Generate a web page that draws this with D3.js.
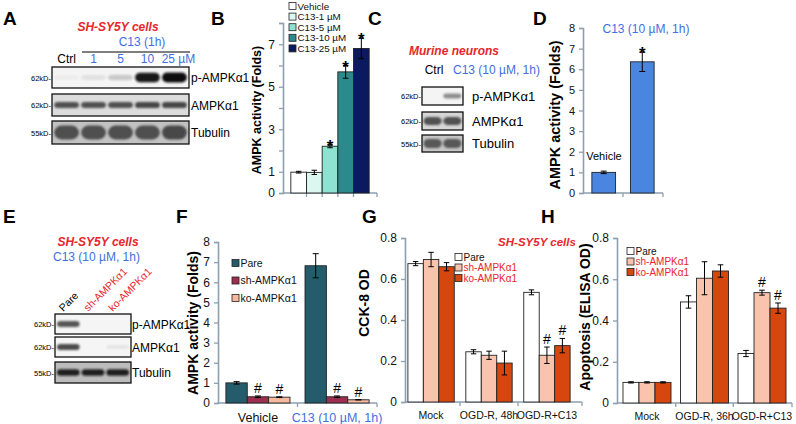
<!DOCTYPE html>
<html><head><meta charset="utf-8">
<script src="https://cdn.jsdelivr.net/npm/d3@7"></script>
<style>body{margin:0;background:#fff} svg{display:block;font-family:"Liberation Sans",Arial,sans-serif}</style>
</head><body><svg id="c" width="796" height="424"></svg>
<script>
// ---------- DATA ----------
// Panel A blot (band intensities 0..1)
const aLanes = ["Ctrl", "1", "5", "10", "25 µM"];
const aPampk = [0.03, 0.08, 0.18, 0.95, 1.0];
const aAmpk = [0.75, 0.75, 0.75, 0.8, 0.8];
const aTubulin = [0.85, 0.85, 0.85, 0.85, 0.9];
// Panel B
const bCategories = ["Vehicle", "C13-1 µM", "C13-5 µM", "C13-10 µM", "C13-25 µM"];
const bValues = [0.98, 0.97, 2.2, 5.7, 6.8];
const bErrors = [0.04, 0.1, 0.07, 0.3, 0.48];
const bSig = ["", "", "*", "*", "*"];
const bTicks = [0, 1, 2, 3, 4, 5, 6, 7, 8];
const bTickLabels = [0, 1, 3, 5, 7];
// Panel C blot
const cLanes = ["Ctrl", "C13 (10 µM, 1h)"];
const cPampk = [0.0, 0.45];
const cAmpk = [0.8, 0.8];
const cTubulin = [0.85, 0.85];
// Panel D
const dCategories = ["Vehicle", "C13 (10 µM, 1h)"];
const dValues = [1.0, 6.36];
const dErrors = [0.06, 0.47];
const dSig = ["", "*"];
const dTicks = [0, 1, 2, 3, 4, 5, 6, 7, 8];
// Panel E blot
const eLanes = ["Pare", "sh-AMPKα1", "ko-AMPKα1"];
const ePampk = [0.75, 0, 0];
const eAmpk = [0.8, 0, 0.08];
const eTubulin = [0.9, 0.9, 0.9];
// Panel F
const fGroups = ["Vehicle", "C13 (10 µM, 1h)"];
const fSeries = ["Pare", "sh-AMPKα1", "ko-AMPKα1"];
const fPare = [1.0, 6.82];
const fSh = [0.31, 0.31];
const fKo = [0.29, 0.16];
const fPareErr = [0.06, 0.6];
const fShErr = [0.04, 0.04];
const fKoErr = [0.02, 0.01];
const fSig = [["", ""], ["#", "#"], ["#", "#"]];
const fTicks = [0, 1, 2, 3, 4, 5, 6, 7, 8];
// Panel G
const gGroups = ["Mock", "OGD-R, 48h", "OGD-R+C13"];
const ghSeries = ["Pare", "sh-AMPKα1", "ko-AMPKα1"];
const gPare = [0.675, 0.245, 0.535];
const gSh = [0.695, 0.228, 0.228];
const gKo = [0.66, 0.19, 0.275];
const gPareErr = [0.01, 0.01, 0.012];
const gShErr = [0.035, 0.02, 0.04];
const gKoErr = [0.02, 0.058, 0.035];
const gSig = [["", "", ""], ["", "", "#"], ["", "", "#"]];
const ghTicks = [0, 0.2, 0.4, 0.6, 0.8];
// Panel H
const hGroups = ["Mock", "OGD-R, 36h", "OGD-R+C13"];
const hPare = [0.1, 0.49, 0.24];
const hSh = [0.1, 0.605, 0.535];
const hKo = [0.1, 0.64, 0.46];
const hPareErr = [0.003, 0.03, 0.015];
const hShErr = [0.003, 0.08, 0.012];
const hKoErr = [0.003, 0.03, 0.025];
const hSig = [["", "", ""], ["", "", "#"], ["", "", "#"]];

// ---------- STYLE ----------
const RED = "#e8262b", BLUE = "#3f6fe0", AXIS = "#8d9fb0";
const bColors = ["#ffffff", "#dcf7f0", "#8ee2d2", "#2b8a8c", "#0b1a5e"];
const dColor = "#4a86e0";
const fColors = ["#245c6c", "#9c2f4f", "#f6b99e"];
const ghColors = ["#ffffff", "#f9c3ad", "#d6470f"];

const svg = d3.select("#c");
const defs = svg.append("defs");
defs.append("filter").attr("id", "blur").attr("x", "-20%").attr("y", "-50%").attr("width", "140%").attr("height", "200%")
  .append("feGaussianBlur").attr("stdDeviation", 1.3);

function txt(x, y, s, o = {}) {
  const t = svg.append("text").attr("x", x).attr("y", y).text(s)
    .attr("font-size", o.size || 12).attr("fill", o.fill || "#000")
    .attr("text-anchor", o.anchor || "start");
  if (o.bold) t.attr("font-weight", "bold");
  if (o.italic) t.attr("font-style", "italic");
  if (o.rotate !== undefined) t.attr("transform", `rotate(${o.rotate},${x},${y})`);
  return t;
}
function panelLetter(x, y, s) { txt(x, y, s, { size: 19, bold: true }); }
function yLabel(x, y, s, size) {
  svg.append("text").attr("transform", `translate(${x},${y}) rotate(-90)`).attr("text-anchor", "middle")
    .attr("dy", "0.35em").attr("font-size", size).attr("font-weight", "bold").text(s);
}

// ---------- BLOTS ----------
function blot(o) {
  const lane = d3.scaleBand().domain(o.lanes).range([o.x, o.x + o.w]).padding(0.08);
  o.rows.forEach(r => {
    const g = svg.append("g");
    g.append("rect").attr("x", o.x).attr("y", r.y).attr("width", o.w).attr("height", r.h).attr("fill", r.bg);
    const cid = "clip" + Math.round(o.x) + "_" + Math.round(r.y);
    defs.append("clipPath").attr("id", cid).append("rect").attr("x", o.x).attr("y", r.y).attr("width", o.w).attr("height", r.h);
    const bg = g.append("g").attr("clip-path", `url(#${cid})`);
    bg.selectAll("rect").data(r.ints.map((v, i) => ({ v, l: o.lanes[i] }))).join("rect")
      .attr("x", d => lane(d.l)).attr("width", lane.bandwidth())
      .attr("y", d => r.y + r.h / 2 - r.bandH * (0.45 + 0.55 * d.v) / 2)
      .attr("height", d => r.bandH * (0.45 + 0.55 * d.v))
      .attr("rx", r.bandH / 2).attr("fill", r.color).attr("opacity", d => d.v)
      .attr("filter", "url(#blur)");
    g.append("rect").attr("x", o.x).attr("y", r.y).attr("width", o.w).attr("height", r.h)
      .attr("fill", "none").attr("stroke", "#111").attr("stroke-width", 1.3);
    txt(o.x - 1, r.y + r.h / 2 + 3, r.kd, { size: o.kdSize || 7.5, anchor: "end" });
    txt(o.x + o.w + (o.labGap || 2), r.y + r.h / 2 + 4.5, r.label, { size: o.labSize || 12 });
  });
  return lane;
}

// A
panelLetter(3, 25, "A");
txt(118, 31, "SH-SY5Y cells", { size: 12, bold: true, italic: true, fill: RED, anchor: "middle" });
txt(142, 46, "C13 (1h)", { size: 12, fill: BLUE, anchor: "middle" });
svg.append("line").attr("x1", 82).attr("x2", 190).attr("y1", 52).attr("y2", 52).attr("stroke", "#000").attr("stroke-width", 1.2);
const aLane = blot({
  x: 52, w: 137, lanes: aLanes, labSize: 12, rows: [
    { y: 67, h: 21, bg: "#f4f4f4", ints: aPampk, bandH: 10, color: "#111", kd: "62kD-", label: "p-AMPKα1" },
    { y: 94, h: 22, bg: "#dcdcdc", ints: aAmpk, bandH: 7, color: "#222", kd: "62kD-", label: "AMPKα1" },
    { y: 121, h: 23, bg: "#c2c2c2", ints: aTubulin, bandH: 15, color: "#3a3a3a", kd: "55kD-", label: "Tubulin" }]
});
aLanes.forEach((l, i) => txt(aLane(l) + aLane.bandwidth() / 2 + (i === 4 ? 4 : 0), 63, l, { size: 12, fill: i === 0 ? "#000" : BLUE, anchor: "middle" }));

// C
panelLetter(368, 25, "C");
txt(454, 55, "Murine neurons", { size: 12, bold: true, italic: true, fill: RED, anchor: "middle" });
blot({
  x: 422, w: 41, lanes: cLanes, labSize: 13, labGap: 9, rows: [
    { y: 87, h: 18, bg: "#f4f4f4", ints: cPampk, bandH: 7, color: "#111", kd: "62kD-", label: "p-AMPKα1" },
    { y: 112, h: 18, bg: "#d6d6d6", ints: cAmpk, bandH: 9, color: "#333", kd: "62kD-", label: "AMPKα1" },
    { y: 135, h: 17, bg: "#c6c6c6", ints: cTubulin, bandH: 10, color: "#444", kd: "55kD-", label: "Tubulin" }]
});
txt(434, 74, cLanes[0], { size: 12, anchor: "middle" });
txt(453, 74, cLanes[1], { size: 12, fill: BLUE });

// E
panelLetter(3, 223, "E");
txt(98, 246, "SH-SY5Y cells", { size: 12, bold: true, italic: true, fill: RED, anchor: "middle" });
txt(53, 261, "C13 (10 µM, 1h)", { size: 12, fill: BLUE });
const eLane = blot({
  x: 55, w: 76, lanes: eLanes, labSize: 12, labGap: 1, rows: [
    { y: 314, h: 20, bg: "#f5f5f5", ints: ePampk, bandH: 7, color: "#222", kd: "62kD-", label: "p-AMPKα1" },
    { y: 337, h: 20, bg: "#f5f5f5", ints: eAmpk, bandH: 7, color: "#222", kd: "62kD-", label: "AMPKα1" },
    { y: 362, h: 21, bg: "#bcbcbc", ints: eTubulin, bandH: 7, color: "#111", kd: "55kD-", label: "Tubulin" }]
});
eLanes.forEach((l, i) => {
  const cx = eLane(l) + eLane.bandwidth() / 2;
  txt(cx - 5, 312, l, { size: 10.5, fill: i === 0 ? "#000" : RED, rotate: -45 });
});

// ---------- BAR PANELS ----------
function barPanel(o) {
  const g = svg.append("g");
  const x0 = d3.scaleBand().domain(o.groups).range(o.xRange).paddingInner(o.pi).paddingOuter(o.po);
  const x1 = d3.scaleBand().domain(o.series).range([0, x0.bandwidth()]);
  const y = d3.scaleLinear().domain(o.yDomain).range(o.yRange);
  const xEnd = o.axisEnd || o.xRange[1];
  // y axis
  const ya = g.append("g").attr("transform", `translate(${o.xRange[0]},0)`)
    .call(d3.axisLeft(y).tickValues(o.ticks).tickSize(4).tickPadding(4)
      .tickFormat(d => (o.tickLabels ? o.tickLabels.includes(d) : true) ? o.fmt(d) : ""));
  ya.select(".domain").attr("stroke", AXIS).attr("stroke-width", 1.6);
  ya.selectAll(".tick line").attr("stroke", AXIS).attr("stroke-width", 1.3);
  ya.selectAll(".tick text").attr("font-size", o.tickSize || 12).attr("fill", "#111").attr("font-family", "Liberation Sans, Arial");
  // x axis
  const xa = g.append("g").attr("transform", `translate(0,${y(0)})`)
    .call(d3.axisBottom(x0).tickSize(0).tickPadding(o.xPad || 9).tickFormat(o.xLabels ? (d => d) : () => ""));
  xa.select(".domain").attr("d", `M${o.xRange[0]},0H${xEnd}`).attr("stroke", AXIS).attr("stroke-width", 1.6);
  xa.selectAll(".tick text").attr("font-size", o.xSize || 12).attr("font-family", "Liberation Sans, Arial")
    .attr("fill", (d, i) => (o.xColors ? o.xColors[i] : "#111"));
  const step = x0.step();
  const seps = o.groups.map(gg => x0(gg) - step * o.pi / 2).slice(1).concat([xEnd]);
  g.selectAll(".sep").data(seps).join("line").attr("x1", d => d).attr("x2", d => d)
    .attr("y1", y(0)).attr("y2", y(0) + 4).attr("stroke", AXIS).attr("stroke-width", 1.3);
  // bars
  const data = [];
  o.series.forEach((s, si) => o.groups.forEach((gg, gi) => data.push({
    s, si, gg, gi, v: o.values[si][gi], e: o.errors[si][gi], sig: o.sig ? o.sig[si][gi] : "",
    c: o.colorByGroup ? o.colors[gi] : o.colors[si]
  })));
  const bx = d => x0(d.gg) + x1(d.s);
  g.selectAll(".bar").data(data).join("rect")
    .attr("x", bx).attr("width", x1.bandwidth()).attr("y", d => y(d.v)).attr("height", d => y(0) - y(d.v))
    .attr("fill", d => d.c).attr("stroke", o.barStroke || "#222").attr("stroke-width", 0.9);
  const cap = Math.min(6, x1.bandwidth() * 0.35);
  const eb = g.selectAll(".eb").data(data).join("g").attr("stroke", "#000").attr("stroke-width", 1);
  eb.append("line").attr("x1", d => bx(d) + x1.bandwidth() / 2).attr("x2", d => bx(d) + x1.bandwidth() / 2)
    .attr("y1", d => y(d.v + d.e)).attr("y2", d => y(d.v - d.e));
  [1, -1].forEach(k => eb.append("line").attr("x1", d => bx(d) + x1.bandwidth() / 2 - cap / 2)
    .attr("x2", d => bx(d) + x1.bandwidth() / 2 + cap / 2)
    .attr("y1", d => y(d.v + k * d.e)).attr("y2", d => y(d.v + k * d.e)));
  g.selectAll(".sig").data(data.filter(d => d.sig)).join("text")
    .attr("x", d => bx(d) + x1.bandwidth() / 2)
    .attr("y", d => d.sig === "*" ? y(d.v + d.e) + 7 : y(d.v + d.e) - 3)
    .attr("text-anchor", "middle").attr("font-size", d => d.sig === "*" ? 17 : 14)
    .attr("font-weight", d => d.sig === "*" ? "bold" : "normal").text(d => d.sig);
  // legend
  if (o.legend) {
    const L = o.legend;
    const lg = g.append("g");
    L.items.forEach((it, i) => {
      const cy = L.y + i * L.dy;
      lg.append("rect").attr("x", L.x).attr("y", cy - 3.5).attr("width", 7).attr("height", 7)
        .attr("fill", L.colors[i]).attr("stroke", "#222").attr("stroke-width", 0.8);
      txt(L.x + 8.5, cy + 3.6, it, { size: L.size, fill: L.textColors ? L.textColors[i] : "#111" });
    });
  }
  return { x0, x1, y };
}

// B
panelLetter(211, 25, "B");
barPanel({
  groups: bCategories, series: ["s"], values: [bValues], errors: [bErrors], sig: [bSig],
  colors: bColors, colorByGroup: true, xRange: [283, 377], pi: 0, po: 0.5,
  yDomain: [0, 8], yRange: [193, 23], ticks: bTicks, tickLabels: bTickLabels, fmt: d3.format("d"),
  legend: { x: 289, y: 6, dy: 10.6, size: 9.8, items: bCategories, colors: bColors }
});
yLabel(257, 110, "AMPK activity (Folds)", 12.5);

// D
panelLetter(533, 25, "D");
barPanel({
  groups: dCategories, series: ["s"], values: [dValues], errors: [dErrors], sig: [dSig],
  colors: [dColor, dColor], colorByGroup: true, xRange: [583, 663], pi: 0.385, po: 0.23,
  yDomain: [0, 8], yRange: [193, 28], ticks: dTicks, fmt: d3.format("d"), tickSize: 11
});
yLabel(555, 115, "AMPK activity (Folds)", 14.5);
txt(646, 33, dCategories[1], { size: 12, fill: BLUE, anchor: "middle" });
txt(604, 160, dCategories[0], { size: 11, anchor: "middle" });

// F
panelLetter(176, 223, "F");
barPanel({
  groups: fGroups, series: fSeries, values: [fPare, fSh, fKo], errors: [fPareErr, fShErr, fKoErr], sig: fSig,
  colors: fColors, xRange: [218, 377], pi: 0.19, po: 0.1,
  yDomain: [0, 8], yRange: [403, 242], ticks: fTicks, fmt: d3.format("d"),
  xLabels: true, xColors: ["#111", BLUE], xSize: 12.5, xPad: 10,
  legend: { x: 232, y: 263, dy: 17.5, size: 10.5, items: fSeries, colors: fColors }
});
yLabel(193, 323, "AMPK activity (Folds)", 14);

// G
panelLetter(362, 223, "G");
barPanel({
  groups: gGroups, series: ghSeries, values: [gPare, gSh, gKo], errors: [gPareErr, gShErr, gKoErr], sig: gSig,
  colors: ghColors, xRange: [405, 573], pi: 0.2, po: 0.05, axisEnd: 582,
  yDomain: [0, 0.8], yRange: [402, 238], ticks: ghTicks, fmt: d => d === 0 ? "0" : d3.format(".1f")(d),
  xLabels: true, xSize: 10.5, xPad: 10,
  legend: { x: 455, y: 257, dy: 10.5, size: 10, items: ghSeries, colors: ghColors, textColors: ["#111", RED, RED] }
});
yLabel(364, 303, "CCK-8 OD", 14);
txt(537, 246, "SH-SY5Y cells", { size: 11.5, bold: true, italic: true, fill: RED, anchor: "middle" });

// H
panelLetter(541, 223, "H");
barPanel({
  groups: hGroups, series: ghSeries, values: [hPare, hSh, hKo], errors: [hPareErr, hShErr, hKoErr], sig: hSig,
  colors: ghColors, xRange: [617, 792], pi: 0.165, po: 0.104,
  yDomain: [0, 0.8], yRange: [403, 238], ticks: ghTicks, fmt: d => d === 0 ? "0" : d3.format(".1f")(d),
  xLabels: true, xSize: 10.5, xPad: 10,
  legend: { x: 627, y: 251, dy: 10.5, size: 10, items: ghSeries, colors: ghColors, textColors: ["#111", RED, RED] }
});
yLabel(585, 317, "Apoptosis (ELISA OD)", 14);
</script></body></html>
